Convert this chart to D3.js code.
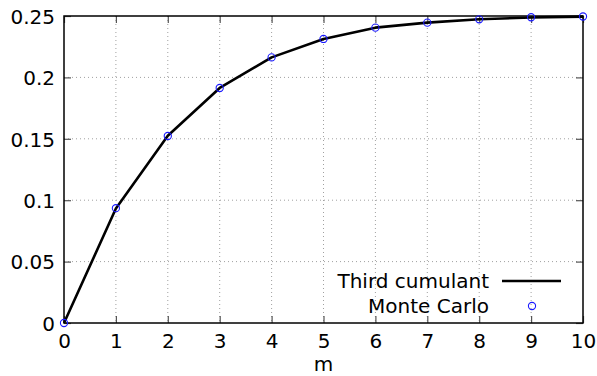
<!DOCTYPE html>
<html>
<head>
<meta charset="utf-8">
<script src="https://cdn.jsdelivr.net/npm/d3@7"></script>
<style>
  body { margin: 0; background: #fff; }
  text { font-family: "DejaVu Sans", sans-serif; fill: #000; }
</style>
</head>
<body>
<svg id="chart" width="597" height="376"></svg>
<script>
// data
const mValues = [0, 1, 2, 3, 4, 5, 6, 7, 8, 9, 10];
const cumulant = [0, 0.0932, 0.1525, 0.1914, 0.2163, 0.2313, 0.2405, 0.2446, 0.2473, 0.2488, 0.2495];
const monteCarlo = [0, 0.0935, 0.1523, 0.1914, 0.2163, 0.2313, 0.2405, 0.2446, 0.2473, 0.2490, 0.2496];
const xTicks = [0, 1, 2, 3, 4, 5, 6, 7, 8, 9, 10];
const yTicks = [0, 0.05, 0.1, 0.15, 0.2, 0.25];
const yTickLabels = ['0', '0.05', '0.1', '0.15', '0.2', '0.25'];

const plotL = 64, plotR = 583, plotT = 16, plotB = 323;
const fontSize = 20;
const svg = d3.select('#chart');

const x = d3.scaleLinear().domain([0, 10]).range([plotL, plotR]);
const y = d3.scaleLinear().domain([0, 0.25]).range([plotB, plotT]);

// grid
const grid = svg.append('g').attr('stroke', '#a0a0a0').attr('stroke-width', 1).attr('stroke-dasharray', '1,3');
grid.selectAll('.gx')
  .data(xTicks.slice(1, -1))
  .join('line')
  .attr('x1', d => x(d)).attr('x2', d => x(d))
  .attr('y1', plotT).attr('y2', plotB);
grid.selectAll('.gy')
  .data(yTicks.slice(1, -1))
  .join('line')
  .attr('x1', plotL).attr('x2', plotR)
  .attr('y1', d => y(d)).attr('y2', d => y(d));

// axes (inward ticks, mirrored)
const tickLen = 7;
const xAxis = d3.axisBottom(x).tickValues(xTicks).tickSize(-tickLen).tickFormat(d3.format('d'));
const yAxis = d3.axisLeft(y).tickValues(yTicks).tickSize(-tickLen).tickPadding(9).tickFormat((d, i) => yTickLabels[i]);

const gx = svg.append('g').attr('transform', 'translate(0,' + plotB + ')').call(xAxis);
const gy = svg.append('g').attr('transform', 'translate(' + plotL + ',0)').call(yAxis);
const gxTop = svg.append('g').attr('transform', 'translate(0,' + plotT + ')').call(d3.axisTop(x).tickValues(xTicks).tickSize(-tickLen).tickFormat(''));
const gyRight = svg.append('g').attr('transform', 'translate(' + plotR + ',0)').call(d3.axisRight(y).tickValues(yTicks).tickSize(-tickLen).tickFormat(''));

[gx, gy, gxTop, gyRight].forEach(g => {
  g.select('.domain').remove();
  g.selectAll('.tick line').attr('stroke', '#555').attr('stroke-width', 1.2);
  g.selectAll('text').attr('font-size', fontSize).attr('font-family', '"DejaVu Sans", sans-serif').attr('fill', '#000');
});
gy.selectAll('text').attr('dy', '0.36em');
gx.selectAll('text').attr('dy', 0).attr('y', 25);

// border
svg.append('rect')
  .attr('x', plotL).attr('y', plotT)
  .attr('width', plotR - plotL).attr('height', plotB - plotT)
  .attr('fill', 'none').attr('stroke', '#000').attr('stroke-width', 1.5);

svg.append('text')
  .attr('x', (plotL + plotR) / 2).attr('y', 371)
  .attr('text-anchor', 'middle').attr('font-size', fontSize)
  .text('m');

// curve
const line = d3.line().x((d, i) => x(mValues[i])).y(d => y(d));
svg.append('path')
  .datum(cumulant)
  .attr('d', line)
  .attr('fill', 'none').attr('stroke', '#000').attr('stroke-width', 2.6)
  .attr('stroke-linejoin', 'round');

// points
svg.append('g').selectAll('circle')
  .data(monteCarlo)
  .join('circle')
  .attr('cx', (d, i) => x(mValues[i]))
  .attr('cy', d => y(d))
  .attr('r', 3.6)
  .attr('fill', 'none').attr('stroke', '#1a1aff').attr('stroke-width', 1.1);

// legend
const legend = svg.append('g');
legend.append('text').attr('x', 489).attr('y', 288).attr('text-anchor', 'end').attr('font-size', fontSize).text('Third cumulant');
legend.append('line').attr('x1', 502).attr('x2', 561).attr('y1', 281).attr('y2', 281).attr('stroke', '#000').attr('stroke-width', 2.6);
legend.append('text').attr('x', 489).attr('y', 313).attr('text-anchor', 'end').attr('font-size', fontSize).text('Monte Carlo');
legend.append('circle').attr('cx', 532).attr('cy', 306).attr('r', 3.6).attr('fill', 'none').attr('stroke', '#1a1aff').attr('stroke-width', 1.1);
</script>
</body>
</html>
